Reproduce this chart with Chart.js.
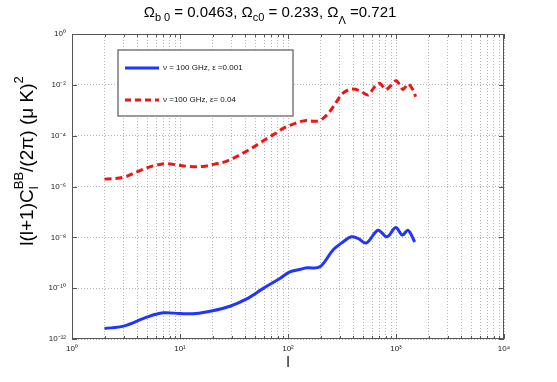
<!DOCTYPE html>
<html>
<head>
<meta charset="utf-8">
<script src="https://cdn.jsdelivr.net/npm/chart.js@4.4.0/dist/chart.umd.min.js"></script>
<style>
  html, body { margin: 0; padding: 0; background: #fff; }
  #wrap { width: 557px; height: 382px; }
</style>
</head>
<body>
<div id="wrap"><canvas id="myChart" width="557" height="382"></canvas></div>
<script>
// multipole l and l(l+1)C_l^BB/(2pi) for the two curves
const blueL = [2, 3, 5, 7, 10, 14, 20, 29, 41, 59, 84, 104, 128, 150, 197, 261, 323, 386, 445, 532, 681, 826, 993, 1146, 1292, 1490];
const blueCl = [2.6e-12, 3.2e-12, 7.4e-12, 1.07e-11, 1.0e-11, 1.0e-11, 1.29e-11, 1.95e-11, 3.7e-11, 9.8e-11, 2.4e-10, 4.4e-10, 5.4e-10, 6.3e-10, 6.9e-10, 3.2e-9, 6.6e-9, 1.05e-8, 9.1e-9, 6.0e-9, 1.9e-8, 1.05e-8, 2.45e-8, 1.23e-8, 1.9e-8, 6.6e-9];
const redL = [2, 3, 4, 5, 6, 7.5, 9.3, 11.5, 14, 17, 21, 26, 31, 38, 46, 55, 68, 81, 90, 115, 143, 183, 211, 243, 281, 323, 386, 461, 551, 635, 707, 803, 906, 1009, 1161, 1292, 1436, 1521];
const redCl = [1.95e-6, 2.3e-6, 3.8e-6, 5.5e-6, 6.9e-6, 7.9e-6, 7.1e-6, 6.3e-6, 6.0e-6, 6.3e-6, 7.6e-6, 9.3e-6, 1.29e-5, 2.0e-5, 3.2e-5, 5.2e-5, 9.1e-5, 1.41e-4, 1.95e-4, 3.0e-4, 3.9e-4, 3.7e-4, 4.8e-4, 8.7e-4, 2.14e-3, 4.7e-3, 6.8e-3, 5.9e-3, 4.0e-3, 8.5e-3, 1.15e-2, 6.6e-3, 9.8e-3, 1.45e-2, 6.6e-3, 1.07e-2, 6.3e-3, 3.4e-3];

const xTicks = [1, 10, 100, 1000, 10000];
const yTicks = [1e-12, 1e-10, 1e-8, 1e-6, 1e-4, 1e-2, 1];
const legendLabels = ['\u03BD = 100 GHz, \u03B5 =0.001', '\u03BD =100 GHz, \u03B5= 0.04'];

const FONT = '"Liberation Sans", Arial, sans-serif';
const BLUE = '#2036ff';
const RED = '#ee1515';

// minor grid for x: 1..9 x 10^k
const xGrid = [];
for (let k = 0; k < xTicks.length - 1; k++) {
    for (let m = 1; m <= 9; m++) xGrid.push(m * xTicks[k]);
}
xGrid.push(xTicks[xTicks.length - 1]);

const supDigits = { '0': '\u2070', '1': '\u00B9', '2': '\u00B2', '3': '\u00B3', '4': '\u2074', '5': '\u2075', '6': '\u2076', '7': '\u2077', '8': '\u2078', '9': '\u2079', '-': '\u207B' };
const powLabel = (v) => {
    const e = Math.log10(v);
    if (Math.abs(e - Math.round(e)) > 1e-9) return '';
    return '10' + String(Math.round(e)).split('').map(c => supDigits[c]).join('');
};

// draws text runs with sub/superscripts, centred on cx
const drawRich = (ctx, segs, cx, y) => {
    let total = 0;
    segs.forEach(s => {
        ctx.font = s.size + 'px ' + FONT;
        s.w = ctx.measureText(s.t).width;
        if (!s.stack) total += s.w;
    });
    let x = cx - total / 2;
    ctx.textAlign = 'left';
    ctx.textBaseline = 'alphabetic';
    segs.forEach(s => {
        ctx.font = s.size + 'px ' + FONT;
        ctx.fillText(s.t, x, y + (s.dy || 0));
        if (!s.stack) x += s.w;
    });
};

const decorPlugin = {
    id: 'decor',
    afterDatasetsDraw(chart) {
        const ctx = chart.ctx;
        const area = chart.chartArea;
        const xs = chart.scales.x, ys = chart.scales.y;
        ctx.save();

        // legend box
        const bx = 118, by = 50, bw = 175, bh = 66;
        ctx.fillStyle = '#fff';
        ctx.fillRect(bx, by, bw, bh);
        ctx.strokeStyle = '#7a7a7a';
        ctx.lineWidth = 1.5;
        ctx.strokeRect(bx, by, bw, bh);
        const rows = [{ c: BLUE, dash: [], y: 68 }, { c: RED, dash: [6, 4], y: 100 }];
        rows.forEach((r, i) => {
            ctx.beginPath();
            ctx.setLineDash(r.dash);
            ctx.strokeStyle = r.c;
            ctx.lineWidth = 3;
            ctx.moveTo(125, r.y);
            ctx.lineTo(159, r.y);
            ctx.stroke();
            ctx.setLineDash([]);
            ctx.fillStyle = '#111';
            ctx.font = '8px ' + FONT;
            ctx.textAlign = 'left';
            ctx.textBaseline = 'middle';
            ctx.fillText(legendLabels[i], 163, r.y);
        });

        // frame and inward ticks
        ctx.strokeStyle = '#555';
        ctx.lineWidth = 1;
        ctx.strokeRect(area.left + 0.5, area.top + 0.5, area.right - area.left - 1, area.bottom - area.top - 1);
        ctx.beginPath();
        xGrid.forEach(v => {
            const px = Math.round(xs.getPixelForValue(v)) + 0.5;
            const len = powLabel(v) ? 5 : 3;
            ctx.moveTo(px, area.bottom); ctx.lineTo(px, area.bottom - len);
            ctx.moveTo(px, area.top); ctx.lineTo(px, area.top + len);
        });
        yTicks.forEach(v => {
            const py = Math.round(ys.getPixelForValue(v)) + 0.5;
            ctx.moveTo(area.left, py); ctx.lineTo(area.left + 5, py);
            ctx.moveTo(area.right, py); ctx.lineTo(area.right - 5, py);
        });
        ctx.stroke();

        // title
        ctx.fillStyle = '#000';
        drawRich(ctx, [
            { t: '\u03A9', size: 15 },
            { t: 'b 0', size: 11, dy: 4 },
            { t: ' = 0.0463, \u03A9', size: 15 },
            { t: 'c0', size: 11, dy: 4 },
            { t: ' = 0.233, \u03A9', size: 15 },
            { t: '\u039B', size: 11, dy: 7 },
            { t: ' =0.721', size: 15 }
        ], 270, 17);

        // x label
        ctx.font = '14px ' + FONT;
        ctx.textAlign = 'center';
        ctx.fillText('l', (area.left + area.right) / 2, 367);

        // y label
        ctx.translate(33, 161);
        ctx.rotate(-Math.PI / 2);
        drawRich(ctx, [
            { t: 'l(l+1)C', size: 19 },
            { t: 'l', size: 13, dy: 5, stack: true },
            { t: 'BB', size: 13, dy: -10 },
            { t: '/(2\u03C0) (\u03BC K)', size: 19 },
            { t: '2', size: 13, dy: -10 }
        ], 0, 0);
        ctx.restore();
    }
};

const config = {
    type: 'line',
    data: {
        datasets: [{
            label: legendLabels[0],
            data: blueL.map((l, i) => ({ x: l, y: blueCl[i] })),
            borderColor: BLUE,
            borderWidth: 3,
            pointRadius: 0,
            tension: 0.35,
            fill: false
        },
        {
            label: legendLabels[1],
            data: redL.map((l, i) => ({ x: l, y: redCl[i] })),
            borderColor: RED,
            borderWidth: 3,
            borderDash: [7, 4],
            pointRadius: 0,
            tension: 0.35,
            fill: false
        }]
    },
    options: {
        responsive: false,
        animation: false,
        devicePixelRatio: 1,
        layout: { padding: { top: 34, right: 53, left: 0, bottom: 0 } },
        plugins: { legend: { display: false }, tooltip: { enabled: false }, title: { display: false } },
        scales: {
            x: {
                type: 'logarithmic',
                min: 1,
                max: 10000,
                afterBuildTicks: scale => { scale.ticks = xGrid.map(v => ({ value: v })); },
                afterFit: scale => { scale.height = 43; },
                ticks: {
                    autoSkip: false,
                    maxRotation: 0,
                    padding: 5,
                    color: '#222',
                    font: { family: FONT, size: 8 },
                    callback: v => powLabel(v)
                },
                grid: { color: '#b4b4b4', lineWidth: 1, drawTicks: false },
                border: { display: false, dash: [1, 2] }
            },
            y: {
                type: 'logarithmic',
                min: 1e-12,
                max: 1,
                afterBuildTicks: scale => { scale.ticks = yTicks.map(v => ({ value: v })); },
                afterFit: scale => { scale.width = 72; },
                ticks: {
                    autoSkip: false,
                    padding: 6,
                    color: '#222',
                    font: { family: FONT, size: 8 },
                    callback: v => powLabel(v)
                },
                grid: { color: '#b4b4b4', lineWidth: 1, drawTicks: false },
                border: { display: false, dash: [1, 2] }
            }
        }
    },
    plugins: [decorPlugin]
};

const myChart = new Chart(document.getElementById('myChart'), config);
</script>
</body>
</html>
